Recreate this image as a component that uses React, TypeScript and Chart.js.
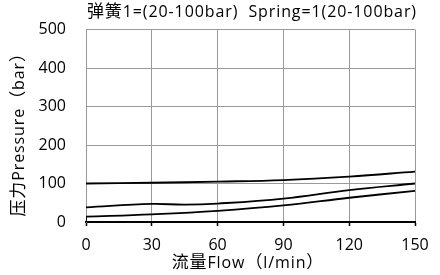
import React, { useEffect, useRef } from "react";
import { Chart, registerables } from "chart.js";

Chart.register(...registerables);

const chartTitle = "弹簧1=(20-100bar)  Spring=1(20-100bar)";
const xTitle = "流量Flow（l/min）";
const yTitle = "压力Pressure（bar）";

const xTicks = [0, 30, 60, 90, 120, 150];
const yTicks = [0, 100, 200, 300, 400, 500];

const topFlow = [0, 30, 60, 90, 120, 150];
const topPressure = [100, 102, 105, 109, 118, 131];

const midFlow = [0, 30, 45, 60, 90, 120, 150];
const midPressure = [38, 47, 45, 48, 61, 83, 100];

const lowFlow = [0, 30, 60, 90, 120, 150];
const lowPressure = [14, 20, 29, 43, 63, 81];

const startFlow = [0, 0];
const startPressure = [0, 14];

const LATIN = '"Open Sans", "Noto Sans CJK SC", sans-serif';
const CJK = '"Noto Sans CJK SC", sans-serif';
const LATIN_SIZE = 16;
const CJK_SIZE = 17;
const TICK_SIZE = 16;
const GAP = 0.9;

const toPoints = (xs: number[], ys: number[]) => xs.map((x, i) => ({ x, y: ys[i] }));

const isCJK = (ch: string) => /[\u3000-\u9fff\uff00-\uffef]/.test(ch);
const fontFor = (ch: string) => (isCJK(ch) ? `${CJK_SIZE}px ${CJK}` : `${LATIN_SIZE}px ${LATIN}`);

function drawSpaced(ctx: CanvasRenderingContext2D, text: string, cx: number, baseline: number, rotation: number) {
  ctx.save();
  ctx.fillStyle = "#000";
  ctx.textAlign = "left";
  ctx.textBaseline = "alphabetic";
  const chars = Array.from(text).map((ch) => {
    ctx.font = fontFor(ch);
    return { ch, w: ctx.measureText(ch).width };
  });
  const total = chars.reduce((s, c) => s + c.w + GAP, 0) - GAP;
  if (rotation) {
    ctx.translate(baseline, cx);
    ctx.rotate(rotation);
  } else {
    ctx.translate(cx, baseline);
  }
  let x = -total / 2;
  for (const c of chars) {
    ctx.font = fontFor(c.ch);
    ctx.fillText(c.ch, x, 0);
    x += c.w + GAP;
  }
  ctx.restore();
}

const titlesPlugin = {
  id: "spacedTitles",
  afterDraw(chart: any) {
    const { ctx, chartArea } = chart;
    const cx = (chartArea.left + chartArea.right) / 2;
    drawSpaced(ctx, chartTitle, cx + 1, 17, 0);
    drawSpaced(ctx, xTitle, cx - 3, 268, 0);
    drawSpaced(ctx, yTitle, (chartArea.top + chartArea.bottom) / 2 + 5, 24, -Math.PI / 2);
  },
};

export default function App() {
  const ref = useRef<HTMLCanvasElement | null>(null);

  useEffect(() => {
    if (!ref.current) return;
    const lineStyle = {
      borderColor: "#000",
      borderWidth: 1.8,
      pointRadius: 0,
      fill: false,
      tension: 0.4,
      showLine: true,
    };
    const chart = new Chart(ref.current, {
      type: "scatter",
      data: {
        datasets: [
          { ...lineStyle, data: toPoints(topFlow, topPressure) },
          { ...lineStyle, data: toPoints(midFlow, midPressure) },
          { ...lineStyle, data: toPoints(lowFlow, lowPressure) },
          { ...lineStyle, tension: 0, data: toPoints(startFlow, startPressure) },
        ],
      },
      options: {
        animation: false,
        responsive: false,
        devicePixelRatio: 1,
        layout: { padding: { top: 26, right: 25, left: 0, bottom: 0 } },
        plugins: {
          legend: { display: false },
          tooltip: { enabled: false },
          title: { display: false },
        },
        scales: {
          x: {
            type: "linear",
            min: xTicks[0],
            max: xTicks[xTicks.length - 1],
            afterBuildTicks: (s: any) => {
              s.ticks = xTicks.map((v) => ({ value: v }));
            },
            afterFit: (s: any) => {
              s.height = 53;
            },
            grid: {
              color: "#9a9a9a",
              lineWidth: 1,
              drawTicks: true,
              tickLength: 4,
              tickColor: "#000",
              tickWidth: 1.5,
            },
            border: { color: "#000", width: 2 },
            ticks: {
              color: "#000",
              padding: 10,
              maxRotation: 0,
              font: { family: LATIN, size: TICK_SIZE },
            },
          },
          y: {
            type: "linear",
            min: yTicks[0],
            max: yTicks[yTicks.length - 1],
            afterBuildTicks: (s: any) => {
              s.ticks = yTicks.map((v) => ({ value: v }));
            },
            afterFit: (s: any) => {
              s.width = 86;
            },
            grid: {
              color: "#9a9a9a",
              lineWidth: 1,
              drawTicks: false,
            },
            border: { color: "#9a9a9a", width: 1 },
            ticks: {
              color: "#000",
              padding: 20,
              font: { family: LATIN, size: TICK_SIZE },
            },
          },
        },
      },
      plugins: [titlesPlugin],
    } as any);
    return () => chart.destroy();
  }, []);

  return (
    <div style={{ position: "absolute", left: 0, top: 0, width: 440, height: 275, background: "#fff" }}>
      <canvas ref={ref} width={440} height={275} style={{ display: "block", width: 440, height: 275 }} />
    </div>
  );
}
